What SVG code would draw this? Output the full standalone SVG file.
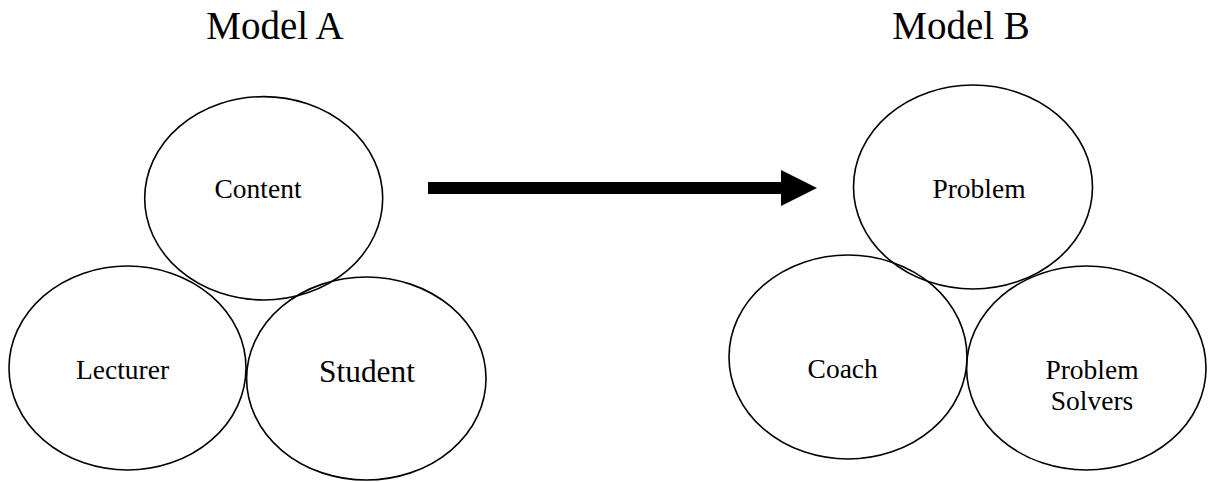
<svg xmlns="http://www.w3.org/2000/svg" width="1208" height="482" viewBox="0 0 1208 482">
<style>
.node ellipse{fill:none;stroke:#000;stroke-width:1.6}
text{font-family:"Liberation Serif","Times New Roman",serif;fill:#000;text-anchor:middle}
.t{font-size:39px}
.l{font-size:27.5px}
</style>
<rect width="1208" height="482" fill="#fff"/>
<text class="t" x="275" y="39">Model A</text>
<text class="t" x="961" y="39">Model B</text>
<g id="content" class="node"><ellipse cx="263.7" cy="198.3" rx="119" ry="101.7"/><text class="l" x="258" y="198">Content</text></g>
<g id="lecturer" class="node"><ellipse cx="127.5" cy="368" rx="118.5" ry="102"/><text class="l" x="122.5" y="379">Lecturer</text></g>
<g id="student" class="node"><ellipse cx="366.3" cy="378.5" rx="119.7" ry="101.5"/><text style="font-size:31.4px" x="367" y="381.7">Student</text></g>
<g id="problem" class="node"><ellipse cx="973" cy="187" rx="119.5" ry="102"/><text class="l" x="979" y="198">Problem</text></g>
<g id="coach" class="node"><ellipse cx="848" cy="357" rx="119" ry="102"/><text class="l" x="842.7" y="378">Coach</text></g>
<g id="solvers" class="node"><ellipse cx="1086.3" cy="368" rx="119.7" ry="102"/><text class="l" x="1092" y="379">Problem</text><text class="l" x="1092" y="410">Solvers</text></g>
<g id="connectors">
<path d="M428 182H781V170L817 188L781 206V194H428Z" fill="#000"/>
</g>
</svg>
